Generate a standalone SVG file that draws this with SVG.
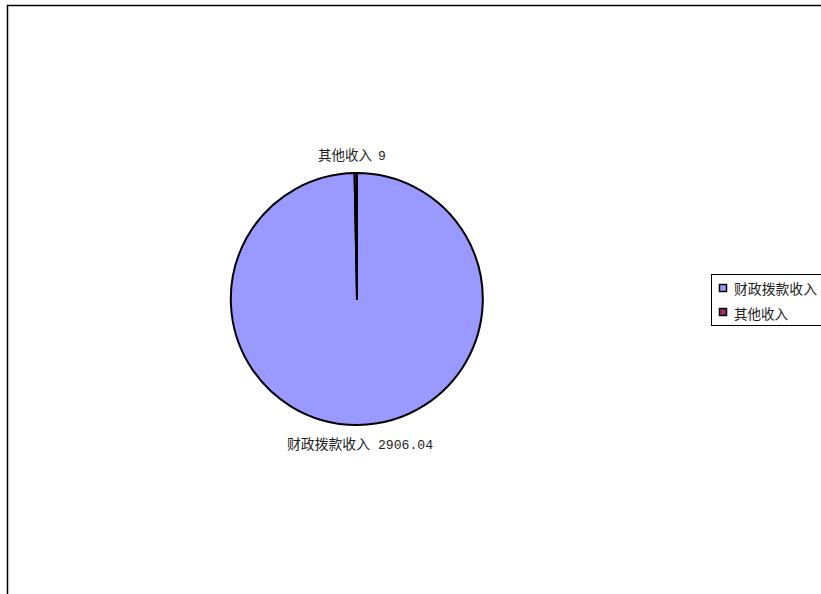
<svg xmlns="http://www.w3.org/2000/svg" width="821" height="594" viewBox="0 0 821 594">
<style>
.t{font-family:"Liberation Serif","Noto Sans CJK SC",serif;font-size:14px;fill:#222}
.n{font-family:"Liberation Mono","Noto Sans CJK SC",monospace;font-size:13px;fill:#222}
.s{stroke:#000;stroke-width:2;stroke-linejoin:round}
</style>
<rect width="821" height="594" fill="#fff"/>
<g id="frame"><path d="M7.5 594 V5.5 H821" fill="none" stroke="#000" stroke-width="1.5"/></g>
<g id="slice-caizheng"><path class="s" d="M357 299 L354.56 173.02 A126 126 0 1 0 357 173 Z" fill="#9999ff"/></g>
<g id="slice-qita"><path class="s" d="M357 299 L357 173 A126 126 0 0 0 354.56 173.02 Z" fill="#993366"/></g>
<g id="connectors"></g>
<g id="label-qita"><text class="t" x="318" y="160" textLength="54" lengthAdjust="spacingAndGlyphs">其他收入</text><text class="n" x="378" y="160">9</text></g>
<g id="label-caizheng"><text class="t" x="287" y="449" textLength="83" lengthAdjust="spacingAndGlyphs">财政拨款收入</text><text class="n" x="378" y="449" textLength="55" lengthAdjust="spacingAndGlyphs">2906.04</text></g>
<g id="legend">
<rect x="711.5" y="274.5" width="115" height="51" fill="#fff" stroke="#000" stroke-width="1"/>
<rect x="719.5" y="284.5" width="7" height="7" fill="#9999ff" stroke="#000" stroke-width="1.5"/>
<text class="t" x="734" y="294" textLength="83" lengthAdjust="spacingAndGlyphs">财政拨款收入</text>
<rect x="719.5" y="308.5" width="7" height="7" fill="#993366" stroke="#000" stroke-width="1.5"/>
<text class="t" x="734" y="319" textLength="54" lengthAdjust="spacingAndGlyphs">其他收入</text>
</g>
</svg>
